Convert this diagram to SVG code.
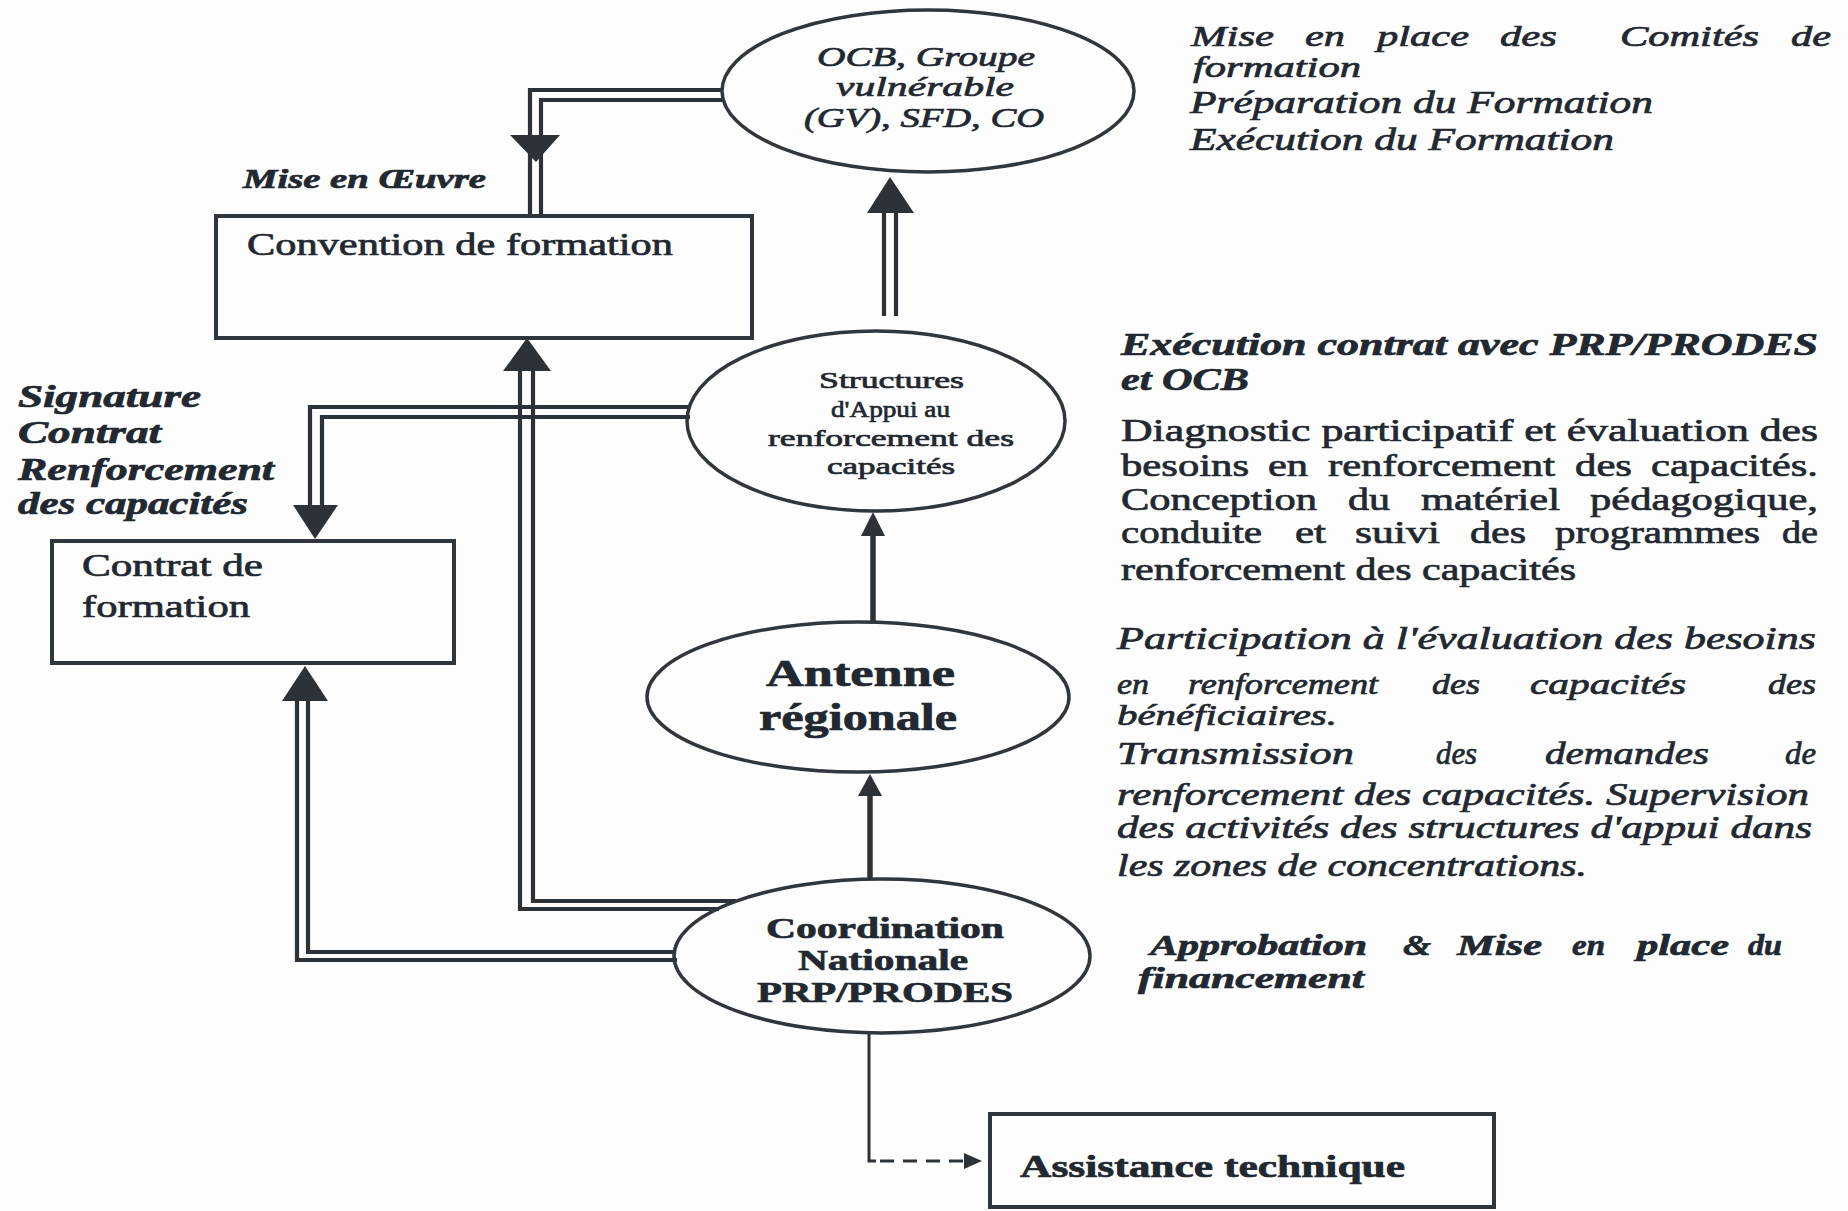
<svg xmlns="http://www.w3.org/2000/svg" width="1848" height="1211" viewBox="0 0 1848 1211">
<style>
  .bg{fill:#fdfdfd}
  .node{fill:none;stroke:#30363c;stroke-width:3.5}
  .box{fill:none;stroke:#30363c;stroke-width:4}
  .dl{fill:none;stroke:#2c3238;stroke-width:4.2;stroke-linejoin:miter}
  .sl{fill:none;stroke:#2c3238;stroke-width:5.5}
  .thin{fill:none;stroke:#2c3238;stroke-width:3}
  .dash{fill:none;stroke:#2c3238;stroke-width:3;stroke-dasharray:14 9}
  .ah{fill:#2c3238;stroke:none}
  text{font-family:"Liberation Serif","Times New Roman",serif;fill:#222830;stroke:#222830;stroke-width:0.7}
  .r{font-size:31px}
  .i{font-size:31px;font-style:italic}
  .bi{font-size:31px;font-style:italic;font-weight:bold}
  .b{font-weight:bold}
  .s29{font-size:29px}
</style>
<rect class="bg" x="0" y="0" width="1848" height="1211"/>

<g id="connectors">
  <!-- OCB -> Convention de formation -->
  <path class="dl" d="M723,90 H530 V215"/>
  <path class="dl" d="M723,100 H541 V215"/>
  <polygon class="ah" points="510,135 560,135 536,162"/>
  <!-- Structures -> OCB -->
  <path class="dl" d="M884,316 V210"/>
  <path class="dl" d="M896,316 V210"/>
  <polygon class="ah" points="867,213 914,213 890,177"/>
  <!-- Antenne -> Structures -->
  <path class="sl" d="M873,621 V530"/>
  <polygon class="ah" points="861,536 885,536 873,512"/>
  <!-- Coordination -> Antenne -->
  <path class="sl" d="M870,879 V790"/>
  <polygon class="ah" points="858,796 882,796 870,774"/>
  <!-- Structures -> Contrat de formation -->
  <path class="dl" d="M690,407 H310 V505"/>
  <path class="dl" d="M690,417 H322 V505"/>
  <polygon class="ah" points="293,505 338,505 315,539"/>
  <!-- Coordination -> Convention de formation -->
  <path class="dl" d="M719,909 H520 V368"/>
  <path class="dl" d="M736,901 H533 V368"/>
  <polygon class="ah" points="503,371 551,371 527,338"/>
  <!-- Coordination -> Contrat de formation -->
  <path class="dl" d="M677,960 H297 V698"/>
  <path class="dl" d="M676,952 H308 V698"/>
  <polygon class="ah" points="282,701 328,701 305,666"/>
  <!-- Coordination -> Assistance technique -->
  <path class="thin" d="M869,1033 V1161 H876"/>
  <path class="dash" d="M880,1161 H965"/>
  <polygon class="ah" points="964,1153 982,1161 964,1169"/>
</g>

<g id="n-ocb">
  <ellipse class="node" cx="928" cy="91" rx="206" ry="81"/>
  <text class="i" x="817" y="66" textLength="218" lengthAdjust="spacingAndGlyphs" style="font-size:28px">OCB, Groupe</text>
  <text class="i" x="836" y="96" textLength="178" lengthAdjust="spacingAndGlyphs" style="font-size:28px">vulnérable</text>
  <text class="i" x="804" y="127" textLength="240" lengthAdjust="spacingAndGlyphs" style="font-size:28px">(GV), SFD, CO</text>
</g>

<g id="n-convention">
  <rect class="box" x="216" y="216" width="536" height="122"/>
  <text class="r" x="247" y="255" textLength="426" lengthAdjust="spacingAndGlyphs">Convention de formation</text>
</g>

<g id="n-structures">
  <ellipse class="node" cx="876" cy="421" rx="189" ry="90"/>
  <text class="r" x="819" y="388" textLength="145" lengthAdjust="spacingAndGlyphs" style="font-size:24px">Structures</text>
  <text class="r" x="831" y="417" textLength="119" lengthAdjust="spacingAndGlyphs" style="font-size:24px">d'Appui au</text>
  <text class="r" x="768" y="446" textLength="246" lengthAdjust="spacingAndGlyphs" style="font-size:24px">renforcement des</text>
  <text class="r" x="827" y="474" textLength="128" lengthAdjust="spacingAndGlyphs" style="font-size:24px">capacités</text>
</g>

<g id="n-contrat">
  <rect class="box" x="52" y="541" width="402" height="122"/>
  <text class="r" x="82" y="576" textLength="181" lengthAdjust="spacingAndGlyphs">Contrat de</text>
  <text class="r" x="82" y="617" textLength="168" lengthAdjust="spacingAndGlyphs">formation</text>
</g>

<g id="n-antenne">
  <ellipse class="node" cx="858" cy="697" rx="211" ry="75"/>
  <text class="r b" x="766" y="686" textLength="189" lengthAdjust="spacingAndGlyphs" style="font-size:37px">Antenne</text>
  <text class="r b" x="759" y="730" textLength="198" lengthAdjust="spacingAndGlyphs" style="font-size:37px">régionale</text>
</g>

<g id="n-coordination">
  <ellipse class="node" cx="882" cy="956" rx="208" ry="77"/>
  <text class="r b" x="766" y="938" textLength="238" lengthAdjust="spacingAndGlyphs" style="font-size:29px">Coordination</text>
  <text class="r b" x="798" y="970" textLength="170" lengthAdjust="spacingAndGlyphs" style="font-size:29px">Nationale</text>
  <text class="r b" x="757" y="1002" textLength="256" lengthAdjust="spacingAndGlyphs" style="font-size:29px">PRP/PRODES</text>
</g>

<g id="n-assistance">
  <rect class="box" x="990" y="1114" width="504" height="93"/>
  <text class="r b" x="1020" y="1177" textLength="385" lengthAdjust="spacingAndGlyphs" style="font-size:32px">Assistance technique</text>
</g>

<g id="labels">
  <text class="bi" x="243" y="188" textLength="243" lengthAdjust="spacingAndGlyphs" style="font-size:27px">Mise en Œuvre</text>

  <text class="bi" x="18" y="407" textLength="183" lengthAdjust="spacingAndGlyphs">Signature</text>
  <text class="bi" x="18" y="443" textLength="143" lengthAdjust="spacingAndGlyphs">Contrat</text>
  <text class="bi" x="18" y="480" textLength="256" lengthAdjust="spacingAndGlyphs">Renforcement</text>
  <text class="bi" x="18" y="514" textLength="230" lengthAdjust="spacingAndGlyphs">des capacités</text>

  <!-- block 1 -->
  <text class="i s29" x="1191" y="46" textLength="83" lengthAdjust="spacingAndGlyphs">Mise</text>
  <text class="i s29" x="1305" y="46" textLength="40" lengthAdjust="spacingAndGlyphs">en</text>
  <text class="i s29" x="1377" y="46" textLength="92" lengthAdjust="spacingAndGlyphs">place</text>
  <text class="i s29" x="1500" y="46" textLength="57" lengthAdjust="spacingAndGlyphs">des</text>
  <text class="i s29" x="1620" y="46" textLength="139" lengthAdjust="spacingAndGlyphs">Comités</text>
  <text class="i s29" x="1791" y="46" textLength="40" lengthAdjust="spacingAndGlyphs">de</text>
  <text class="i s29" x="1193" y="77" textLength="168" lengthAdjust="spacingAndGlyphs">formation</text>
  <text class="i" x="1190" y="113" textLength="463" lengthAdjust="spacingAndGlyphs">Préparation du Formation</text>
  <text class="i" x="1190" y="150" textLength="424" lengthAdjust="spacingAndGlyphs">Exécution du Formation</text>

  <!-- block 2 -->
  <text class="bi" x="1121" y="355" textLength="697" lengthAdjust="spacingAndGlyphs">Exécution contrat avec PRP/PRODES</text>
  <text class="bi" x="1121" y="390" textLength="128" lengthAdjust="spacingAndGlyphs">et OCB</text>
  <text class="r" x="1121" y="441" textLength="697" lengthAdjust="spacingAndGlyphs">Diagnostic participatif et évaluation des</text>
  <text class="r" x="1121" y="476" textLength="128" lengthAdjust="spacingAndGlyphs">besoins</text>
  <text class="r" x="1268" y="476" textLength="40" lengthAdjust="spacingAndGlyphs">en</text>
  <text class="r" x="1328" y="476" textLength="227" lengthAdjust="spacingAndGlyphs">renforcement</text>
  <text class="r" x="1575" y="476" textLength="57" lengthAdjust="spacingAndGlyphs">des</text>
  <text class="r" x="1651" y="476" textLength="167" lengthAdjust="spacingAndGlyphs">capacités.</text>
  <text class="r" x="1121" y="510" textLength="196" lengthAdjust="spacingAndGlyphs">Conception</text>
  <text class="r" x="1348" y="510" textLength="42" lengthAdjust="spacingAndGlyphs">du</text>
  <text class="r" x="1421" y="510" textLength="139" lengthAdjust="spacingAndGlyphs">matériel</text>
  <text class="r" x="1590" y="510" textLength="228" lengthAdjust="spacingAndGlyphs">pédagogique,</text>
  <text class="r" x="1121" y="543" textLength="141" lengthAdjust="spacingAndGlyphs">conduite</text>
  <text class="r" x="1295" y="543" textLength="31" lengthAdjust="spacingAndGlyphs">et</text>
  <text class="r" x="1355" y="543" textLength="85" lengthAdjust="spacingAndGlyphs">suivi</text>
  <text class="r" x="1470" y="543" textLength="56" lengthAdjust="spacingAndGlyphs">des</text>
  <text class="r" x="1555" y="543" textLength="205" lengthAdjust="spacingAndGlyphs">programmes</text>
  <text class="r" x="1782" y="543" textLength="36" lengthAdjust="spacingAndGlyphs">de</text>
  <text class="r" x="1121" y="580" textLength="455" lengthAdjust="spacingAndGlyphs">renforcement des capacités</text>

  <!-- block 3 -->
  <text class="i" x="1117" y="649" textLength="699" lengthAdjust="spacingAndGlyphs">Participation à l'évaluation des besoins</text>
  <text class="i s29" x="1117" y="694" textLength="32" lengthAdjust="spacingAndGlyphs">en</text>
  <text class="i s29" x="1188" y="694" textLength="190" lengthAdjust="spacingAndGlyphs">renforcement</text>
  <text class="i s29" x="1432" y="694" textLength="48" lengthAdjust="spacingAndGlyphs">des</text>
  <text class="i s29" x="1530" y="694" textLength="156" lengthAdjust="spacingAndGlyphs">capacités</text>
  <text class="i s29" x="1768" y="694" textLength="48" lengthAdjust="spacingAndGlyphs">des</text>
  <text class="i s29" x="1117" y="725" textLength="220" lengthAdjust="spacingAndGlyphs">bénéficiaires.</text>
  <text class="i" x="1117" y="764" textLength="237" lengthAdjust="spacingAndGlyphs">Transmission</text>
  <text class="i" x="1436" y="764" textLength="41" lengthAdjust="spacingAndGlyphs">des</text>
  <text class="i" x="1545" y="764" textLength="164" lengthAdjust="spacingAndGlyphs">demandes</text>
  <text class="i" x="1785" y="764" textLength="31" lengthAdjust="spacingAndGlyphs">de</text>
  <text class="i" x="1117" y="805" textLength="692" lengthAdjust="spacingAndGlyphs">renforcement des capacités. Supervision</text>
  <text class="i" x="1117" y="838" textLength="695" lengthAdjust="spacingAndGlyphs">des activités des structures d'appui dans</text>
  <text class="i" x="1117" y="876" textLength="470" lengthAdjust="spacingAndGlyphs">les zones de concentrations.</text>

  <!-- block 4 -->
  <text class="bi s29" x="1150" y="955" textLength="217" lengthAdjust="spacingAndGlyphs">Approbation</text>
  <text class="bi s29" x="1403" y="955" textLength="28" lengthAdjust="spacingAndGlyphs">&amp;</text>
  <text class="bi s29" x="1457" y="955" textLength="85" lengthAdjust="spacingAndGlyphs">Mise</text>
  <text class="bi s29" x="1572" y="955" textLength="33" lengthAdjust="spacingAndGlyphs">en</text>
  <text class="bi s29" x="1637" y="955" textLength="92" lengthAdjust="spacingAndGlyphs">place</text>
  <text class="bi s29" x="1748" y="955" textLength="34" lengthAdjust="spacingAndGlyphs">du</text>
  <text class="bi s29" x="1138" y="988" textLength="226" lengthAdjust="spacingAndGlyphs">financement</text>
</g>
</svg>
